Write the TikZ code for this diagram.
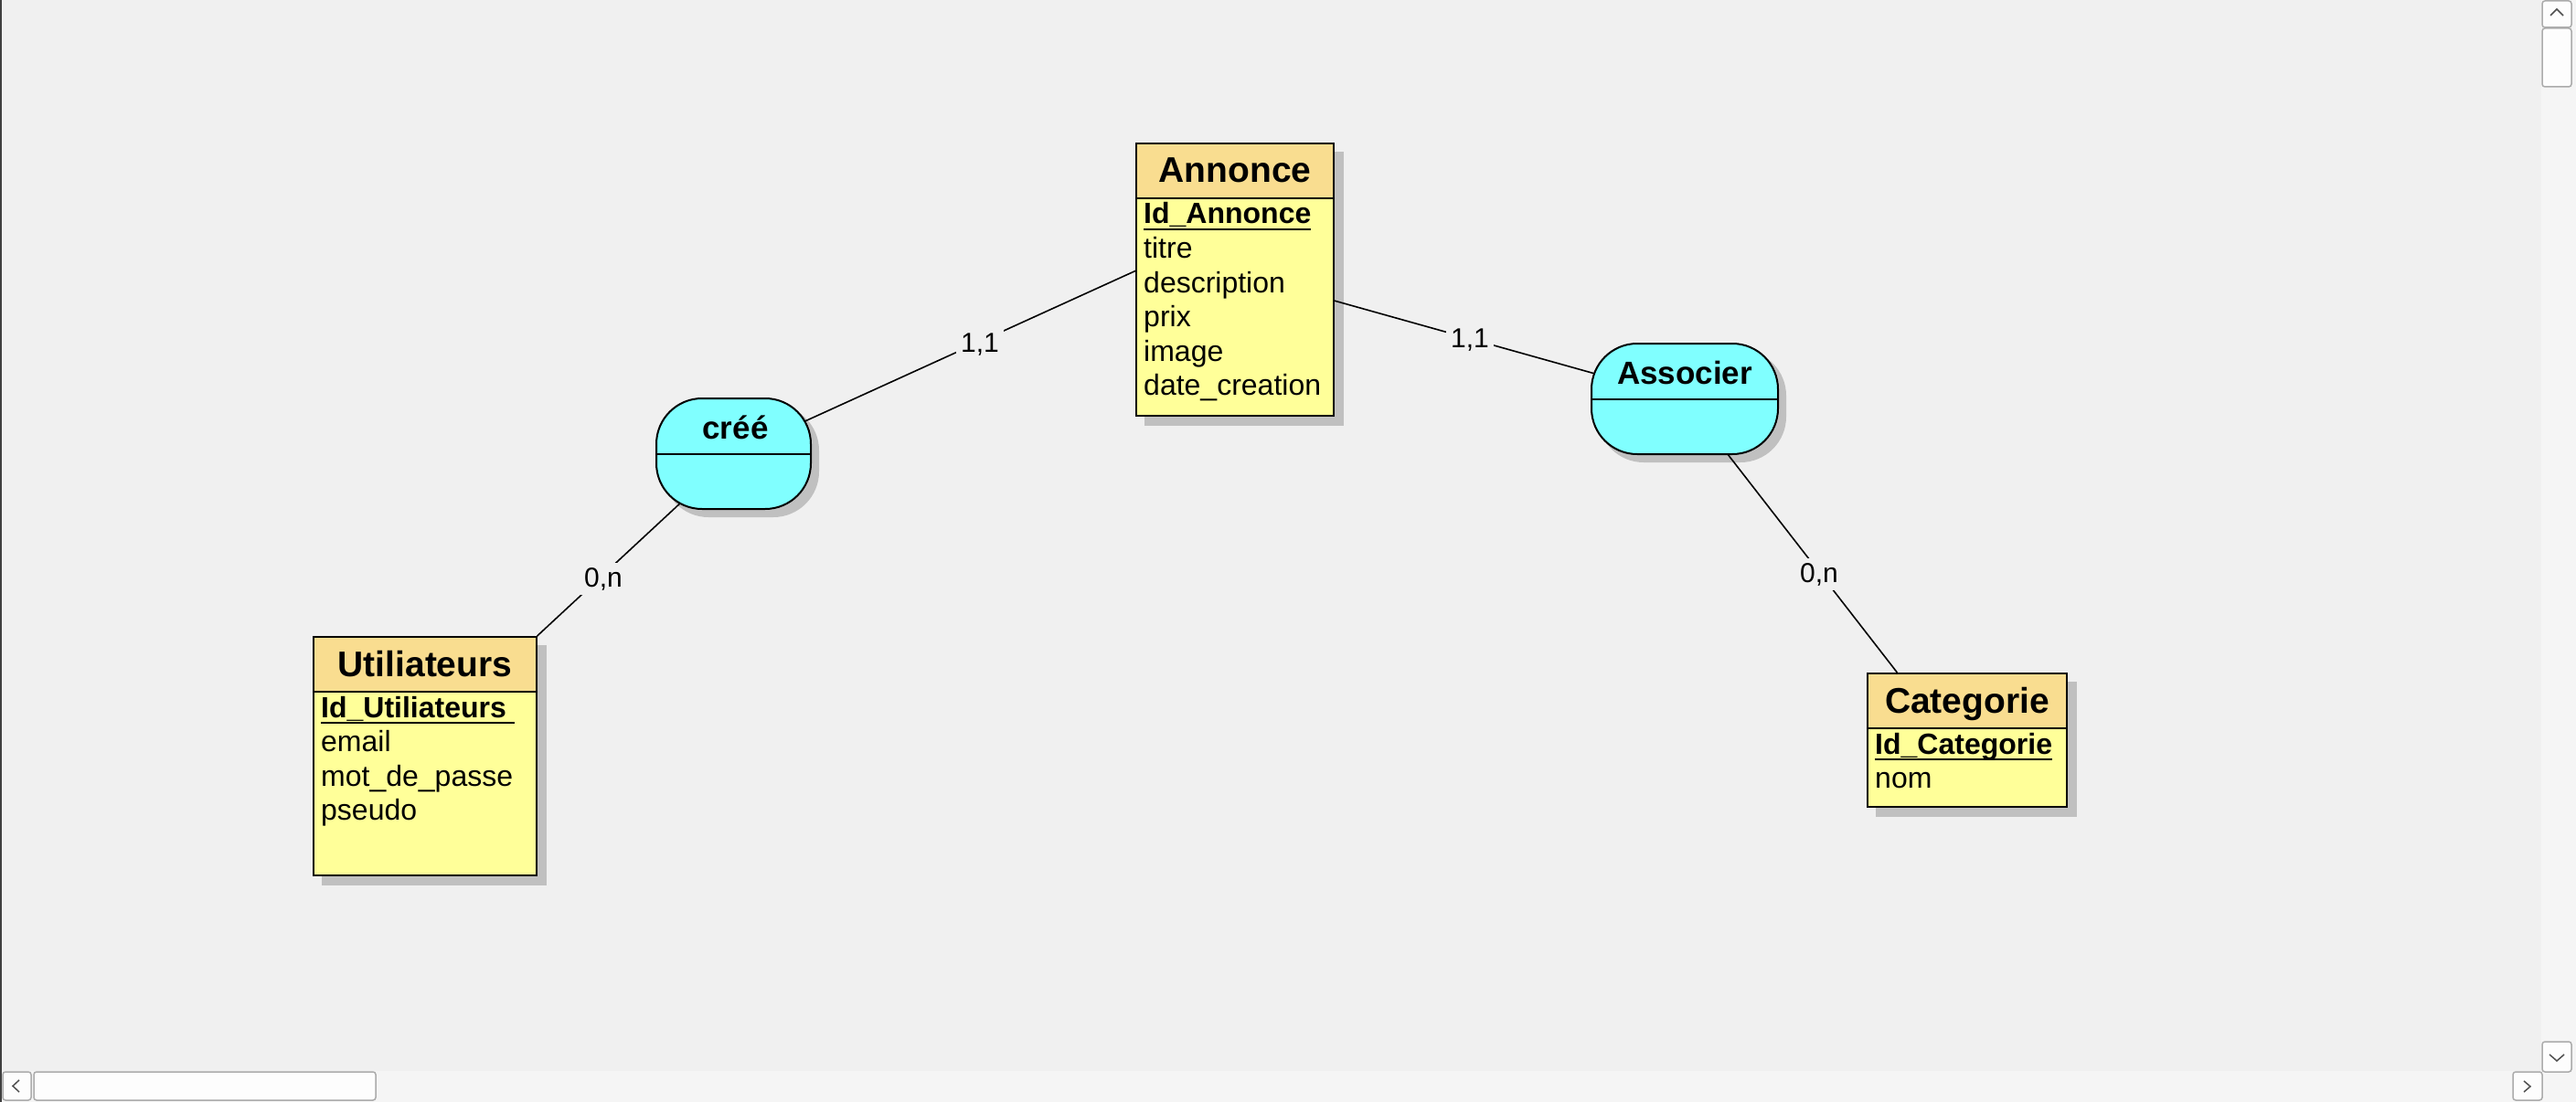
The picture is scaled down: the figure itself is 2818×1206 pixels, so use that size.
\documentclass[tikz,border=0pt]{standalone}
\usepackage{fontspec}
\setmainfont{Liberation Sans}
\usetikzlibrary{calc}
\definecolor{pagebg}{HTML}{F0F0F0}
\definecolor{headc}{HTML}{F9DD90}
\definecolor{bodyc}{HTML}{FFFF99}
\definecolor{assocc}{HTML}{80FFFF}
\definecolor{shadc}{HTML}{C0C0C0}
\definecolor{sbbg}{HTML}{F5F5F5}
\definecolor{sbbtn}{HTML}{FDFDFD}
\definecolor{sbedge}{HTML}{ABABAB}
\definecolor{sbarrow}{HTML}{505050}
\definecolor{frame}{HTML}{404040}
\pgfdeclarelayer{backdrop}
\pgfdeclarelayer{shadow}
\pgfdeclarelayer{links}
\pgfsetlayers{backdrop,shadow,links,main}
\newcommand\keyattr[1]{\setbox0\hbox{\bfseries #1}\rlap{\rule[-7pt]{\wd0}{2pt}}\box0}
\tikzset{
  entity/.style={draw, line width=2pt, fill=bodyc, rectangle, inner sep=0pt,
    path picture={
      \fill[headc] (path picture bounding box.north west) rectangle ($(path picture bounding box.north east)+(0,60)$);
      \draw[line width=2pt] ($(path picture bounding box.north west)+(0,60)$) -- ($(path picture bounding box.north east)+(0,60)$);
    }},
  assocbox/.style={draw, line width=2pt, fill=assocc, rectangle, rounded corners=50pt, inner sep=0pt},
  etitle/.style={anchor=base, inner sep=0pt, font=\bfseries\fontsize{39}{39}\selectfont},
  atitle/.style={anchor=base, inner sep=0pt, font=\bfseries\fontsize{35}{35}\selectfont},
  attr/.style={anchor=base west, inner sep=0pt, font=\fontsize{32}{32}\selectfont},
  card/.style={anchor=base, fill=pagebg, inner sep=5pt, font=\fontsize{30}{30}\selectfont},
  link/.style={line width=1.6pt, black},
  sbbox/.style={draw=sbedge, fill=sbbtn, line width=1.5pt, rounded corners=3pt},
  sbchev/.style={draw=sbarrow, line width=1.5pt},
}
\begin{document}
\begin{tikzpicture}[x=1pt, y=-1pt]
\begin{pgfonlayer}{backdrop}
  \fill[pagebg] (0,0) rectangle (2818,1206);
\end{pgfonlayer}
\useasboundingbox (0,0) rectangle (2818,1206);

% entities
\node[entity, minimum width=216pt, minimum height=298pt] (annonce) at (1351,306) {};
\node[entity, minimum width=244pt, minimum height=261pt] (util) at (465,827.5) {};
\node[entity, minimum width=218pt, minimum height=146pt] (categ) at (2152,810) {};

% associations
\node[assocbox, minimum width=169pt, minimum height=121pt] (cree) at (802.5,496.5) {};
\node[assocbox, minimum width=204pt, minimum height=121pt] (asso) at (1843,436.5) {};
\draw[line width=2pt] (cree.west) -- (cree.east);
\draw[line width=2pt] (asso.west) -- (asso.east);

% shadows
\begin{pgfonlayer}{shadow}
  \foreach \n in {annonce,util,categ}
    \fill[shadc] ($(\n.north west)+(10,10)$) rectangle ($(\n.south east)+(10,10)$);
  \foreach \n in {cree,asso}
    \fill[shadc, rounded corners=50pt] ($(\n.north west)+(8,8)$) rectangle ($(\n.south east)+(8,8)$);
\end{pgfonlayer}

% titles
\node[etitle] (annonce-t) at ($(annonce.north)+(0,44)$) {Annonce};
\node[etitle] (util-t) at ($(util.north)+(0,44)$) {Utiliateurs};
\node[etitle] (categ-t) at ($(categ.north)+(0,44)$) {Categorie};
\node[atitle] (cree-t) at ($(cree.center)+(2,-16)$) {créé};
\node[atitle] (asso-t) at ($(asso.center)+(0,-16)$) {Associer};

% attributes
\node[attr] (annonce-k) at ($(annonce.north west)+(9,89)$) {\keyattr{Id\_Annonce}};
\foreach \t [count=\i] in {titre,description,prix,image,date\_creation}
  \node[attr] (annonce-\i) at ($(annonce.north west)+(9,89+37.5*\i)$) {\t};
\node[attr] (util-k) at ($(util.north west)+(9,89)$) {\keyattr{Id\_Utiliateurs\ }};
\foreach \t [count=\i] in {email,mot\_de\_passe,pseudo}
  \node[attr] (util-\i) at ($(util.north west)+(9,89+37.5*\i)$) {\t};
\node[attr] (categ-k) at ($(categ.north west)+(9,89)$) {\keyattr{Id\_Categorie}};
\node[attr] (categ-1) at ($(categ.north west)+(9,126.5)$) {nom};

% links
\begin{pgfonlayer}{links}
  \draw[link] (cree.center) -- (annonce.175);
  \draw[link] (cree.center) -- (util.47);
  \draw[link] (asso.center) -- (annonce.348);
  \draw[link] (asso.center) -- (categ.136);
\end{pgfonlayer}

% cardinalities
\node[card] (c-ann-cree) at (1072,385) {1,1};
\node[card] (c-util-cree) at (660,642) {0,n};
\node[card] (c-ann-asso) at (1608,380) {1,1};
\node[card] (c-categ-asso) at (1990,637) {0,n};

% window chrome: scroll bars and frame
\fill[sbbg] (2780,0) rectangle (2818,1206);
\fill[sbbg] (0,1172) rectangle (2818,1206);
\draw[sbbox] (2781,1) rectangle (2813,30);
\draw[sbbox] (2781,31) rectangle (2813,95);
\draw[sbbox] (2781,1140) rectangle (2813,1173);
\draw[sbbox] (3,1173) rectangle (34,1204);
\draw[sbbox] (37,1173) rectangle (411,1204);
\draw[sbbox] (2749,1173) rectangle (2781,1204);
\draw[sbchev] (2790,17) -- (2797,10) -- (2804,17);
\draw[sbchev] (2789,1154) -- (2797,1161) -- (2805,1154);
\draw[sbchev] (2761,1183) -- (2768,1189) -- (2761,1195);
\draw[sbchev] (21,1182) -- (14,1188.5) -- (21,1195);
\fill[frame] (0,0) rectangle (2,1206);
\end{tikzpicture}
\end{document}
